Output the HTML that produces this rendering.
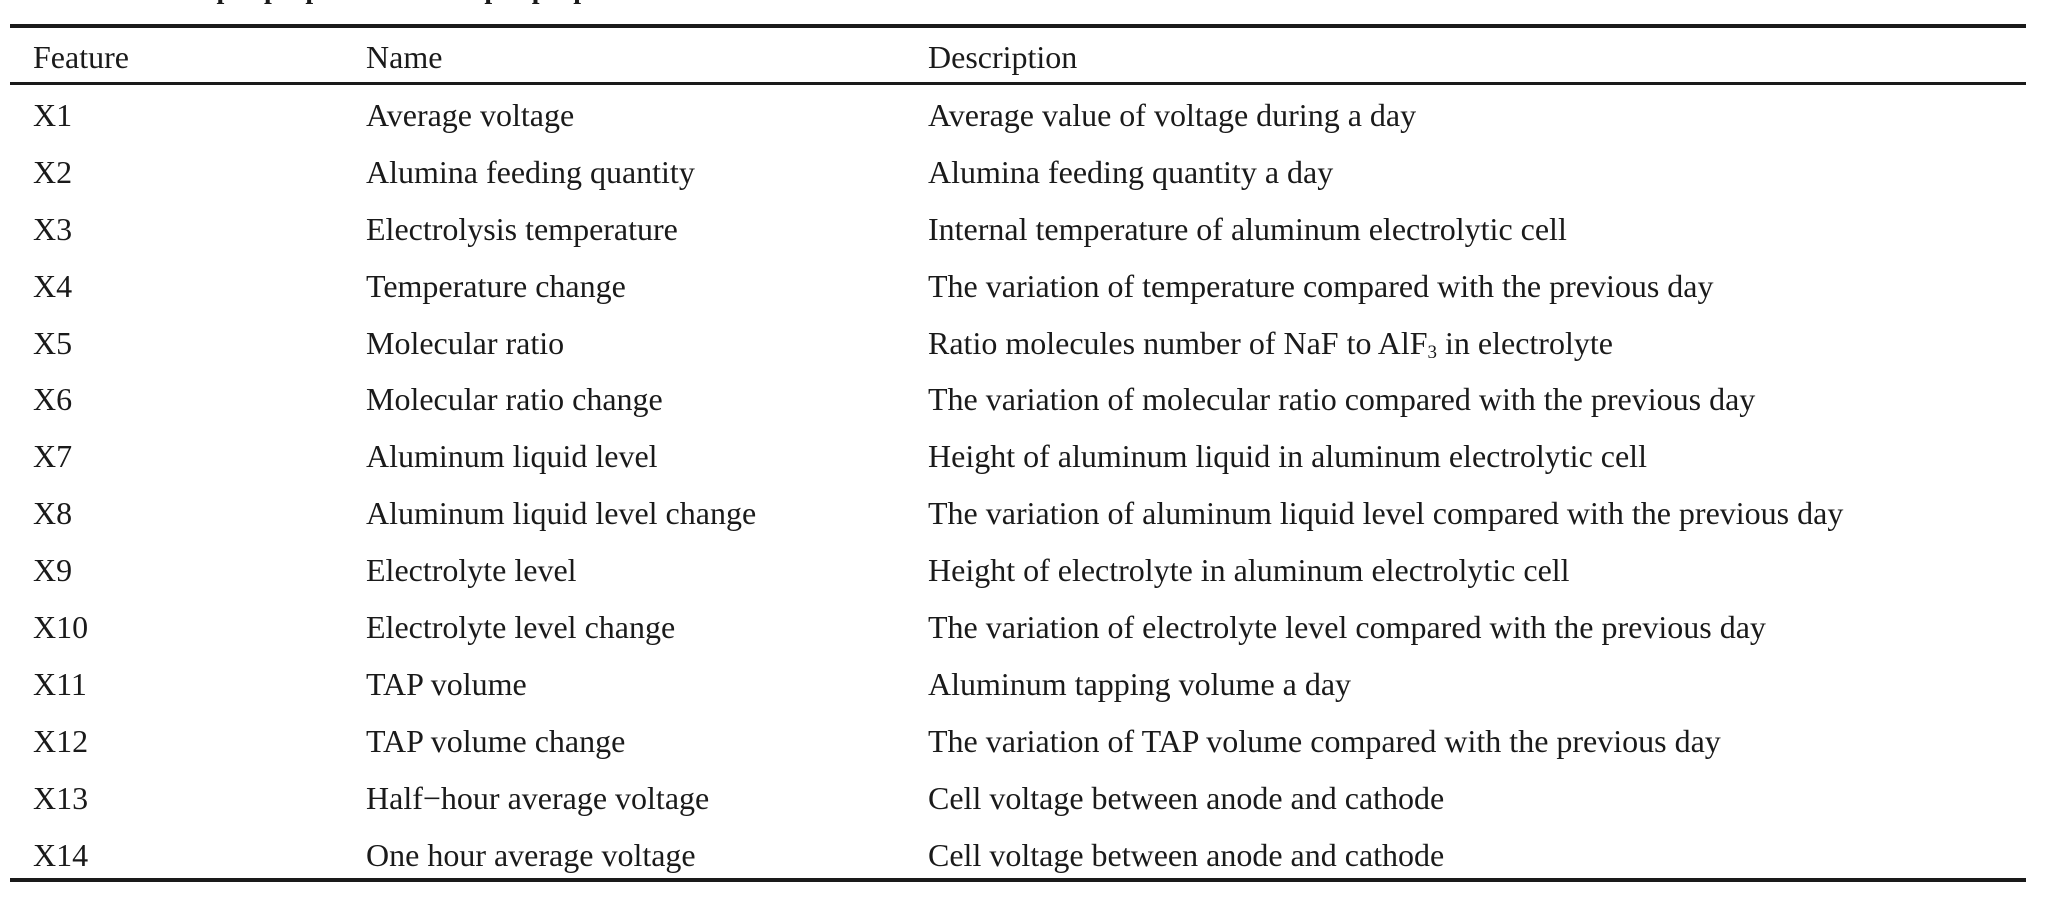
<!DOCTYPE html>
<html><head><meta charset="utf-8"><style>
html,body{margin:0;padding:0;background:#fff;}
body{width:2045px;height:908px;position:relative;overflow:hidden;font-family:"Liberation Serif",serif;color:#1a1a1a;}
.r{position:absolute;left:10px;width:2016px;background:#1a1a1a;}
.t{position:absolute;font-size:32px;line-height:1;white-space:nowrap;transform:translateY(-50%);}
.ttl{position:absolute;left:190px;top:-26px;font-size:28px;font-weight:bold;white-space:nowrap;}
sub{font-size:19px;vertical-align:-4px;line-height:0;}
</style></head><body>
<div class="ttl">Input properties and output properties</div>
<div class="r" style="top:24px;height:4px"></div>
<div class="r" style="top:82px;height:3px"></div>
<div class="r" style="top:878px;height:4px"></div>
<div class="t" style="left:33px;top:57px">Feature</div>
<div class="t" style="left:366px;top:57px">Name</div>
<div class="t" style="left:928px;top:57px">Description</div>

<div class="t" style="left:33px;top:115px">X1</div><div class="t" style="left:366px;top:115px">Average voltage</div><div class="t" style="left:928px;top:115px">Average value of voltage during a day</div>
<div class="t" style="left:33px;top:172px">X2</div><div class="t" style="left:366px;top:172px">Alumina feeding quantity</div><div class="t" style="left:928px;top:172px">Alumina feeding quantity a day</div>
<div class="t" style="left:33px;top:229px">X3</div><div class="t" style="left:366px;top:229px">Electrolysis temperature</div><div class="t" style="left:928px;top:229px">Internal temperature of aluminum electrolytic cell</div>
<div class="t" style="left:33px;top:286px">X4</div><div class="t" style="left:366px;top:286px">Temperature change</div><div class="t" style="left:928px;top:286px">The variation of temperature compared with the previous day</div>
<div class="t" style="left:33px;top:343px">X5</div><div class="t" style="left:366px;top:343px">Molecular ratio</div><div class="t" style="left:928px;top:343px">Ratio molecules number of NaF to AlF<sub>3</sub> in electrolyte</div>
<div class="t" style="left:33px;top:399px">X6</div><div class="t" style="left:366px;top:399px">Molecular ratio change</div><div class="t" style="left:928px;top:399px">The variation of molecular ratio compared with the previous day</div>
<div class="t" style="left:33px;top:456px">X7</div><div class="t" style="left:366px;top:456px">Aluminum liquid level</div><div class="t" style="left:928px;top:456px">Height of aluminum liquid in aluminum electrolytic cell</div>
<div class="t" style="left:33px;top:513px">X8</div><div class="t" style="left:366px;top:513px">Aluminum liquid level change</div><div class="t" style="left:928px;top:513px">The variation of aluminum liquid level compared with the previous day</div>
<div class="t" style="left:33px;top:570px">X9</div><div class="t" style="left:366px;top:570px">Electrolyte level</div><div class="t" style="left:928px;top:570px">Height of electrolyte in aluminum electrolytic cell</div>
<div class="t" style="left:33px;top:627px">X10</div><div class="t" style="left:366px;top:627px">Electrolyte level change</div><div class="t" style="left:928px;top:627px">The variation of electrolyte level compared with the previous day</div>
<div class="t" style="left:33px;top:684px">X11</div><div class="t" style="left:366px;top:684px">TAP volume</div><div class="t" style="left:928px;top:684px">Aluminum tapping volume a day</div>
<div class="t" style="left:33px;top:741px">X12</div><div class="t" style="left:366px;top:741px">TAP volume change</div><div class="t" style="left:928px;top:741px">The variation of TAP volume compared with the previous day</div>
<div class="t" style="left:33px;top:798px">X13</div><div class="t" style="left:366px;top:798px">Half−hour average voltage</div><div class="t" style="left:928px;top:798px">Cell voltage between anode and cathode</div>
<div class="t" style="left:33px;top:855px">X14</div><div class="t" style="left:366px;top:855px">One hour average voltage</div><div class="t" style="left:928px;top:855px">Cell voltage between anode and cathode</div>
</body></html>
